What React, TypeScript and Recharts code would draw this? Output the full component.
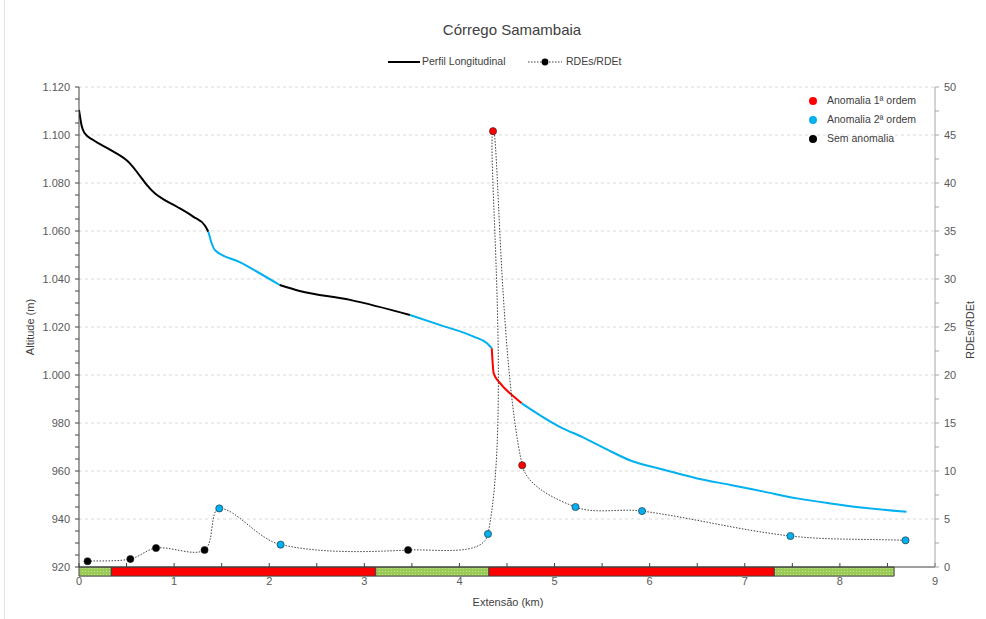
import React from "react";
import { ComposedChart, Line, XAxis, YAxis, ReferenceLine, ReferenceArea } from "recharts";

// Longitudinal profile (km, m)
const PROFILE_KM = [
  0, 0.03, 0.06, 0.15, 0.33, 0.535, 0.64, 0.71, 0.8, 0.88, 1.03, 1.2, 1.325, 1.36, 1.395, 1.43, 1.69,
  2.11, 2.32, 2.85, 3.48, 3.8, 4.15, 4.29, 4.34, 4.36, 4.43, 4.57, 4.655, 5.06, 5.3, 5.55, 5.79,
  6.14, 6.5, 6.85, 7.2, 7.55, 7.9, 8.25, 8.7,
];
const PROFILE_ALT = [
  1110.5, 1103.5, 1100.7, 1097.9, 1093.8, 1088.2, 1083, 1079.3, 1075.6, 1073.4, 1070.1, 1066, 1062.2,
  1059.7, 1054.9, 1052, 1047, 1037.5, 1035, 1031.3, 1025, 1020.8, 1016, 1013.2, 1011.1, 1000.7,
  996.5, 991, 988.2, 978.3, 974, 969, 964.5, 960.6, 956.9, 954.2, 951.4, 948.6, 946.5, 944.7, 943,
];
// where each coloured stretch of the profile starts / ends
const SEG_FROM = [0, 1.36, 2.11, 3.48, 4.34, 4.655];
const SEG_TO = [1.36, 2.11, 3.48, 4.34, 4.655, 8.7];
const SEG_CLASS = ["sem", "2a", "sem", "2a", "1a", "2a"];

// RDEs/RDEt index points
const RDE_KM = [0.09, 0.54, 0.81, 1.32, 1.475, 2.12, 3.46, 4.3, 4.353, 4.66, 5.22, 5.92, 7.48, 8.69];
const RDE_VAL = [0.6, 0.83, 1.98, 1.77, 6.1, 2.33, 1.77, 3.44, 45.4, 10.6, 6.25, 5.83, 3.23, 2.78];
const RDE_CLASS = ["sem", "sem", "sem", "sem", "2a", "2a", "sem", "2a", "1a", "1a", "2a", "2a", "2a", "2a"];

// strip under the x axis
const BAR_FROM = [0, 0.34, 3.12, 4.31, 7.31];
const BAR_TO = [0.34, 3.12, 4.31, 7.31, 8.57];
const BAR_KIND = ["ok", "anom", "ok", "anom", "ok"];

const ALT_LABELS = [920, 940, 960, 980, 1000, 1020, 1040, 1060, 1080, 1100, 1120];
const RDE_LABELS = [0, 5, 10, 15, 20, 25, 30, 35, 40, 45, 50];
const KM_LABELS = [0, 1, 2, 3, 4, 5, 6, 7, 8, 9];

const COLORS: Record<string, string> = { "1a": "#FF0000", "2a": "#00B0F0", sem: "#000000" };
const FONT = '"Liberation Sans", Arial, sans-serif';
const TICK_COLOR = "#595959";

// major + minor ticks in between
const withMinor = (major: number[], parts: number) => {
  const out: number[] = [];
  major.forEach((v, i) => {
    out.push(v);
    if (i < major.length - 1) {
      const step = (major[i + 1] - v) / parts;
      for (let k = 1; k < parts; k++) out.push(v + step * k);
    }
  });
  return out;
};

const profile = PROFILE_KM.map((km, i) => ({ km, alt: PROFILE_ALT[i] }));
const segments = SEG_FROM.map((from, i) => ({
  cls: SEG_CLASS[i],
  data: profile.filter((p) => p.km >= from && p.km <= SEG_TO[i]),
}));
const rde = RDE_KM.map((km, i) => ({ km, rde: RDE_VAL[i], cls: RDE_CLASS[i] }));

// Excel-like smoothed line: bezier, tangent split by neighbouring chord lengths
const excelSmooth = (ctx: any) => {
  let pts: [number, number][] = [];
  const dist = (a: [number, number], b: [number, number]) => Math.hypot(b[0] - a[0], b[1] - a[1]);
  return {
    areaStart() {},
    areaEnd() {},
    lineStart() {
      pts = [];
    },
    lineEnd() {
      const n = pts.length;
      if (!n) return;
      const before: [number, number][] = [];
      const after: [number, number][] = [];
      for (let i = 0; i < n; i++) {
        const p = pts[i];
        const prev = pts[Math.max(i - 1, 0)];
        const next = pts[Math.min(i + 1, n - 1)];
        const dp = dist(prev, p);
        const dn = dist(p, next);
        const tot = dp + dn || 1;
        const tx = next[0] - prev[0];
        const ty = next[1] - prev[1];
        const k = 1 / 3;
        before.push([p[0] - (tx * dp * k) / tot, p[1] - (ty * dp * k) / tot]);
        after.push([p[0] + (tx * dn * k) / tot, p[1] + (ty * dn * k) / tot]);
      }
      ctx.moveTo(pts[0][0], pts[0][1]);
      for (let i = 0; i < n - 1; i++) {
        ctx.bezierCurveTo(after[i][0], after[i][1], before[i + 1][0], before[i + 1][1], pts[i + 1][0], pts[i + 1][1]);
      }
    },
    point(x: number, y: number) {
      pts.push([x, y]);
    },
  };
};

const fmtAlt = (v: number) => (v >= 1000 ? `${Math.floor(v / 1000)}.${String(v % 1000).padStart(3, "0")}` : `${v}`);

const LeftTick = (props: any) => {
  const { x, y, payload } = props;
  if (!ALT_LABELS.includes(payload.value)) return <g />;
  return (
    <text x={x} y={y} dy="0.355em" textAnchor="end" fill={TICK_COLOR} fontSize={11} fontFamily={FONT}>
      {fmtAlt(payload.value)}
    </text>
  );
};

const RightTick = (props: any) => {
  const { x, y, payload } = props;
  if (!RDE_LABELS.includes(payload.value)) return <g />;
  return (
    <text x={x} y={y} dy="0.355em" textAnchor="start" fill={TICK_COLOR} fontSize={11} fontFamily={FONT}>
      {payload.value}
    </text>
  );
};

const BottomTick = (props: any) => {
  const { x, y, payload } = props;
  if (!KM_LABELS.includes(payload.value)) return <g />;
  return (
    <text x={x} y={y} dy="0.71em" textAnchor="middle" fill={TICK_COLOR} fontSize={11} fontFamily={FONT}>
      {payload.value}
    </text>
  );
};

const RdeDot = (props: any) => {
  const { cx, cy, payload, index } = props;
  if (cx == null || cy == null) return <g key={index} />;
  return <circle key={index} cx={cx} cy={cy} r={3.6} fill={COLORS[payload.cls]} stroke="#262626" strokeWidth={0.6} />;
};

const textStyle: React.CSSProperties = { position: "absolute", color: "#404040", fontFamily: FONT, whiteSpace: "nowrap" };

export default function App() {
  return (
    <div style={{ position: "absolute", left: 0, top: 0, width: 986, height: 619, background: "#fff" }}>
      <div style={{ position: "absolute", left: 4, top: 0, width: 1, height: 619, background: "#e3e3e3" }} />
      <ComposedChart width={986} height={619} margin={{ top: 87, right: 5, bottom: 12, left: 29 }}>
        <defs>
          <pattern id="greenDots" width="3" height="3" patternUnits="userSpaceOnUse">
            <rect width="3" height="3" fill="#9BCB55" />
            <rect x="1" y="1" width="1" height="1" fill="#C5E29A" />
          </pattern>
        </defs>
        <XAxis
          type="number"
          dataKey="km"
          domain={[0, 9]}
          ticks={withMinor(KM_LABELS, 2)}
          tick={<BottomTick />}
          tickSize={-4}
          tickMargin={14}
          stroke="#404040"
          height={40}
          allowDataOverflow
        />
        <YAxis
          yAxisId="alt"
          type="number"
          domain={[920, 1120]}
          ticks={withMinor(ALT_LABELS, 4)}
          tick={<LeftTick />}
          tickSize={4}
          tickMargin={5}
          stroke="#404040"
          width={50}
          interval={0}
          allowDataOverflow
        />
        <YAxis
          yAxisId="rde"
          orientation="right"
          type="number"
          domain={[0, 50]}
          ticks={withMinor(RDE_LABELS, 2)}
          tick={<RightTick />}
          tickSize={4}
          tickMargin={5}
          stroke="#a6a6a6"
          width={46}
          interval={0}
          allowDataOverflow
        />
        {ALT_LABELS.slice(1).map((v) => (
          <ReferenceLine key={v} yAxisId="alt" y={v} stroke="#d9d9d9" strokeDasharray="3 3" />
        ))}
        {BAR_FROM.map((from, i) => (
          <ReferenceArea
            key={i}
            yAxisId="rde"
            x1={from}
            x2={BAR_TO[i]}
            y1={0}
            y2={-0.95}
            ifOverflow="visible"
            fill={BAR_KIND[i] === "ok" ? "url(#greenDots)" : "#FF0000"}
            fillOpacity={1}
            stroke="#404040"
            strokeWidth={1}
          />
        ))}
        {segments.map((s, i) => (
          <Line
            key={i}
            yAxisId="alt"
            data={s.data}
            dataKey="alt"
            type="monotone"
            stroke={COLORS[s.cls]}
            strokeWidth={2}
            dot={false}
            activeDot={false}
            isAnimationActive={false}
          />
        ))}
        <Line
          yAxisId="rde"
          data={rde}
          dataKey="rde"
          type={excelSmooth as any}
          stroke="#404040"
          strokeWidth={1}
          strokeDasharray="1.5 1.5"
          dot={<RdeDot />}
          activeDot={false}
          isAnimationActive={false}
        />
      </ComposedChart>

      <div style={{ ...textStyle, left: 0, width: 1024, top: 21, textAlign: "center", fontSize: 15 }}>Córrego Samambaia</div>

      {/* top legend */}
      <svg style={{ position: "absolute", left: 386, top: 56 }} width={180} height={12}>
        <line x1={2} y1={6} x2={34} y2={6} stroke="#000" strokeWidth={2} />
        <line x1={142} y1={6} x2={176} y2={6} stroke="#404040" strokeWidth={1} strokeDasharray="1.5 1.5" />
        <circle cx={159} cy={6} r={3.4} fill="#000" />
      </svg>
      <div style={{ ...textStyle, left: 422, top: 55, fontSize: 10.5 }}>Perfil Longitudinal</div>
      <div style={{ ...textStyle, left: 566, top: 55, fontSize: 10.5 }}>RDEs/RDEt</div>

      {/* anomaly legend */}
      {[
        ["1a", "Anomalia 1ª ordem", 101],
        ["2a", "Anomalia 2ª ordem", 120],
        ["sem", "Sem anomalia", 139],
      ].map(([cls, label, y]) => (
        <React.Fragment key={cls as string}>
          <div
            style={{
              position: "absolute",
              left: 809,
              top: (y as number) - 4,
              width: 8,
              height: 8,
              borderRadius: 4,
              background: COLORS[cls as string],
            }}
          />
          <div style={{ ...textStyle, left: 827, top: (y as number) - 7, fontSize: 10.5 }}>{label}</div>
        </React.Fragment>
      ))}

      {/* axis titles */}
      <div
        style={{
          ...textStyle,
          left: 30,
          top: 327,
          fontSize: 11,
          transform: "translate(-50%, -50%) rotate(-90deg)",
        }}
      >
        Altitude (m)
      </div>
      <div
        style={{
          ...textStyle,
          left: 970,
          top: 330,
          fontSize: 11,
          transform: "translate(-50%, -50%) rotate(-90deg)",
        }}
      >
        RDEs/RDEt
      </div>
      <div style={{ ...textStyle, left: 508, top: 602, fontSize: 11, transform: "translate(-50%, -50%)" }}>
        Extensão (km)
      </div>
    </div>
  );
}
